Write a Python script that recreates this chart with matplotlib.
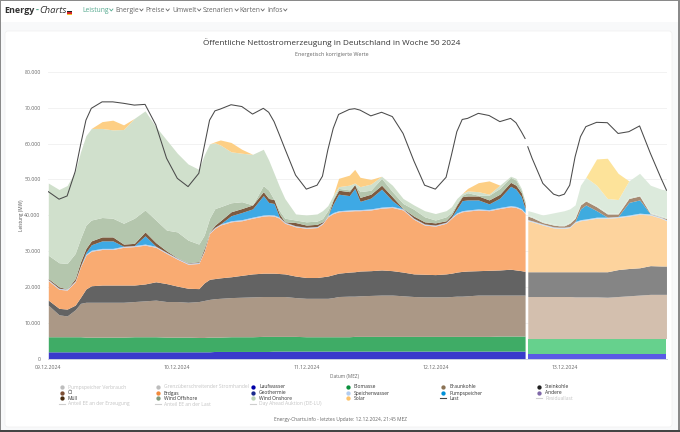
import numpy as np
import matplotlib
matplotlib.use('Agg')
import matplotlib.pyplot as plt
from matplotlib.patches import Rectangle, FancyBboxPatch
from matplotlib.ticker import FuncFormatter

plt.rcParams['font.family'] = ['Open Sans', 'DejaVu Sans']

# hours since 09.12.2024 00:00, values in GW, stack tops
hours = [0, 2, 3.5, 5, 6, 7, 8, 10, 12, 14, 16, 18, 20, 22,
         24, 26, 28, 29, 30, 31, 32, 34, 36, 38, 40, 41, 42, 43, 44,
         46, 48, 50, 51, 52, 53, 54, 56, 57, 58, 60, 62, 64, 66,
         68, 70, 72, 74, 75, 76, 77, 78, 80, 82, 84, 86, 87, 88, 88.7,
         89.2, 90, 92, 94, 95, 96, 97, 98, 99, 100, 102, 104, 106, 108, 110, 112, 114, 115]

lauf_top = [2.0, 2.0, 2.0, 2.0, 2.0, 2.0, 2.0, 2.0, 2.0, 2.0, 2.0, 2.0, 2.0, 2.0,
            2.0, 2.0, 2.0, 2.0, 2.0, 2.1, 2.1, 2.1, 2.1, 2.1, 2.1, 2.1, 2.2, 2.2, 2.2,
            2.2, 2.2, 2.2, 2.2, 2.2, 2.2, 2.2, 2.2, 2.2, 2.2, 2.2, 2.2, 2.2, 2.2,
            2.2, 2.2, 2.2, 2.2, 2.2, 2.2, 2.2, 2.2, 2.2, 2.2, 2.2, 2.2, 2.2, 2.2, 2.2,
            1.5, 1.5, 1.5, 1.5, 1.5, 1.5, 1.5, 1.5, 1.5, 1.5, 1.5, 1.5, 1.5, 1.5, 1.5, 1.5, 1.5, 1.5]
bio_top = [6.2, 6.2, 6.2, 6.2, 6.2, 6.1, 6.1, 6.1, 6.1, 6.1, 6.2, 6.2, 6.2, 6.1,
           6.1, 6.1, 6.0, 6.0, 6.1, 6.1, 6.1, 6.2, 6.2, 6.2, 6.3, 6.3, 6.3, 6.3, 6.3,
           6.3, 6.2, 6.2, 6.2, 6.2, 6.2, 6.2, 6.2, 6.3, 6.3, 6.3, 6.3, 6.3, 6.3,
           6.3, 6.3, 6.3, 6.3, 6.3, 6.3, 6.3, 6.3, 6.3, 6.3, 6.4, 6.4, 6.4, 6.4, 6.4,
           5.7, 5.7, 5.7, 5.7, 5.7, 5.7, 5.7, 5.7, 5.7, 5.7, 5.7, 5.7, 5.7, 5.7, 5.7, 5.7, 5.7, 5.7]
braun_top = [15, 12.3, 12, 13.7, 15.5, 15.8, 15.8, 15.8, 15.8, 15.8, 16, 16.2, 16.4, 16,
             16, 15.8, 16, 16.3, 16.6, 16.8, 16.9, 17.1, 17.2, 17.3, 17.4, 17.4, 17.4, 17.4, 17.4,
             17.1, 16.9, 16.9, 16.9, 16.9, 17.1, 17.4, 17.5, 17.5, 17.6, 17.7, 17.8, 17.8, 17.6,
             17.4, 17.3, 17.3, 17.3, 17.4, 17.5, 17.5, 17.6, 17.8, 17.8, 17.8, 17.8, 17.8, 17.8, 17.8,
             17.4, 17.4, 17.4, 17.4, 17.4, 17.4, 17.4, 17.3, 17.3, 17.3, 17.3, 17.2, 17.4, 17.6, 17.8, 18, 18, 18]
stein_top = [16.4, 14.1, 13.9, 15, 17.2, 19.5, 20.4, 20.6, 20.6, 20.6, 20.6, 20.9, 21.5, 21,
             20.3, 19.7, 19.6, 21.2, 22.2, 22.4, 22.6, 22.9, 23.3, 23.7, 23.9, 23.9, 23.9, 23.8, 23.7,
             23.1, 22.7, 22.7, 22.9, 23.1, 23.5, 23.9, 24.2, 24.3, 24.5, 24.6, 24.8, 24.6, 24.2,
             23.7, 23.6, 23.5, 23.7, 23.9, 24.2, 24.4, 24.5, 24.6, 24.7, 24.8, 25, 24.8, 24.6, 24.4,
             24.3, 24.3, 24.3, 24.3, 24.3, 24.3, 24.3, 24.3, 24.3, 24.3, 24.3, 24.3, 24.9, 25.2, 25.4, 26, 25.9, 25.9]
erdgas_top = [21.8, 19.4, 19.2, 21.5, 25.7, 28.9, 30, 30.5, 30.5, 31.1, 31.3, 31.7, 31.1, 29.4,
              27.8, 26.4, 26.6, 29.9, 35, 36.4, 37.3, 38.2, 38.5, 39.2, 39.8, 39.9, 39.8, 39.2, 37.8,
              36.8, 36.4, 36.6, 37.6, 39.6, 40.5, 41, 41.2, 41.3, 41.3, 41.5, 42, 42.2, 41.5,
              38.9, 37.3, 37, 37.8, 39.2, 40.4, 41, 41.2, 41.5, 41.3, 41.9, 42.4, 42.2, 41.6, 40.5,
              38.5, 38.2, 37.3, 36.5, 36.4, 36.4, 36.6, 38, 38.5, 38.7, 39.2, 39.2, 39.4, 39.8, 40.3, 40.1, 39.2, 38.5]
brown_top = [22.4, 20.1, 19.5, 22.4, 27.1, 30.8, 32.9, 34, 34, 32, 32.2, 35.4, 32.4, 30.1,
             28.2, 26.8, 27.1, 30.8, 35.4, 37.3, 38.5, 41, 41.9, 42.9, 46.6, 44.7, 44.4, 40.4, 38.2,
             38, 37.3, 37.5, 38.2, 39.8, 44.3, 47, 46.6, 48.6, 45, 45.9, 48.4, 45.2, 41.9,
             39.8, 38.2, 37.9, 38.5, 40.1, 42.9, 45.2, 45.4, 45.4, 44.3, 45.9, 49.2, 48.4, 46.3, 42.9,
             39.8, 39.4, 38, 37.3, 37.1, 37.1, 37.8, 39.2, 42.9, 44, 42.4, 40.4, 40.4, 44.7, 45.4, 40.5, 39.6, 39.1]
offshore_top = [28.9, 26.8, 26.6, 29.4, 33.6, 37.3, 38.7, 39.4, 39.2, 37.8, 39.2, 41.5, 38.7, 35.9,
                35.4, 33.1, 32, 34.5, 39.2, 41.9, 42.4, 43.5, 43.8, 42.9, 48.3, 47, 43.8, 41.3, 39.2,
                38.7, 38.2, 38.4, 39.1, 41.3, 44.7, 47.5, 47.1, 48.6, 46.6, 47, 50.3, 46.6, 43.3,
                41.7, 39.6, 38.7, 39.6, 40.8, 43.3, 45.6, 46.3, 45.6, 45.6, 47.5, 50.6, 49.8, 47, 43.8,
                40.1, 39.7, 38.3, 37.6, 37.4, 37.4, 38.1, 39.5, 43.2, 44.3, 42.7, 40.7, 40.7, 45, 45.7, 40.8, 39.9, 39.4]
onshore_top = [49, 47.2, 48.3, 52.2, 57.7, 62.2, 64.2, 64.2, 63.8, 63.9, 67, 69.1, 64.7, 61,
               57.3, 54.3, 52.8, 56.8, 59.9, 60.2, 59.6, 57.7, 57.3, 57, 58.4, 55.4, 51.7, 48, 44.7,
               40.4, 40.1, 40.4, 41.3, 42.7, 45.6, 48, 48.4, 49, 48, 48.7, 50.9, 48.4, 44.7,
               42.9, 41.3, 40.5, 41.3, 42.4, 44.7, 46.1, 46.8, 46.6, 45.9, 48.4, 50.9, 50.3, 47.5, 43.8,
               41.3, 41, 40.1, 40.7, 41, 41.3, 41.8, 42.9, 48.4, 50.6, 48.4, 44.7, 44.4, 49.6, 51.7, 48.4, 47.3, 47]
solar = [0, 0, 0, 0, 0, 0, 0, 1.9, 2.7, 1.3, 0, 0, 0, 0,
         0, 0, 0, 0, 0, 0.3, 1.4, 2.6, 1.1, 0, 0, 0, 0, 0, 0,
         0, 0, 0, 0, 0, 0, 2.3, 2.8, 3.8, 2.6, 1.3, 0, 0, 0,
         0, 0, 0, 0, 0, 0, 0, 0.7, 2.5, 3.7, 0, 0, 0, 0, 0,
         0, 0, 0, 0, 0, 0, 0, 0, 0, 0, 7.3, 11.2, 7.3, 0, 0, 0, 0, 0]
last = [46.6, 44.5, 45.4, 52.2, 59.6, 66.5, 69.8, 71.6, 71.6, 71.2, 70.7, 70.9, 65.2, 55.9,
        50.3, 48, 51.7, 59.1, 66.5, 69.1, 69.6, 70.8, 70.3, 68.2, 69.8, 68.7, 66.1, 62.4, 58.6,
        51.2, 47.3, 48.4, 50.9, 58.2, 64.2, 68.1, 69.5, 69.7, 69.3, 67.7, 68.7, 67.5, 62.8,
        55.2, 48.4, 47.3, 50.6, 56.8, 63.3, 66.7, 67, 68.4, 67.8, 66.1, 67, 65.8, 63.3, 61.4,
        59.1, 55.9, 48.9, 45.9, 45.4, 45.9, 48.4, 56.3, 61.9, 64.7, 65.9, 65.8, 62.8, 63.3, 64.9, 57.3, 50.3, 47]
oel_muell = 1.1
speicher = 0.3

y_ticks = [0, 10000, 20000, 30000, 40000, 50000, 60000, 70000, 80000]
x_ticks = [0, 24, 48, 72, 96]
x_labels = ['09.12.2024', '10.12.2024', '11.12.2024', '12.12.2024', '13.12.2024']
nav_items = ['Leistung', 'Energie', 'Preise', 'Umwelt', 'Szenarien', 'Karten', 'Infos']
nav_x = [82, 115, 145.5, 172, 203, 239, 267]

legend_rows = [
    ['Pumpspeicher Verbrauch', 'Grenzüberschreitender Stromhandel', 'Laufwasser', 'Biomasse', 'Braunkohle', 'Steinkohle'],
    ['Öl', 'Erdgas', 'Geothermie', 'Speicherwasser', 'Pumpspeicher', 'Andere'],
    ['Müll', 'Wind Offshore', 'Wind Onshore', 'Solar', 'Last', 'Residuallast'],
    ['Anteil EE an der Erzeugung', 'Anteil EE an der Last', 'Day Ahead Auktion (DE-LU)'],
]
legend_colors = [
    ['#bdbdbd', '#bdbdbd', '#0000a8', '#0a8f3c', '#8b7355', '#1f1f1f'],
    ['#7d4f35', '#f28a3c', '#1a2a8c', '#b3cdf0', '#0090d8', '#7f68a8'],
    ['#4a2d12', '#7f9a7c', '#bcd3b5', '#fcc36c', '#444444', '#cfcfcf'],
    ['#cfcfcf', '#cfcfcf', '#cfcfcf'],
]
legend_muted = ['Pumpspeicher Verbrauch', 'Grenzüberschreitender Stromhandel', 'Residuallast',
                'Anteil EE an der Erzeugung', 'Anteil EE an der Last', 'Day Ahead Auktion (DE-LU)']
legend_lines = ['Last', 'Residuallast', 'Anteil EE an der Erzeugung', 'Anteil EE an der Last', 'Day Ahead Auktion (DE-LU)']
legend_mark_x = [62, 158, 253, 348, 443, 539]
legend_y = [387, 393, 398, 404]

W, H = 680, 432
fig = plt.figure(figsize=(W / 100, H / 100), dpi=100, facecolor='#f8f9fa')

# page furniture in pixel coordinates
bg = fig.add_axes([0, 0, 1, 1], zorder=0)
bg.set_xlim(0, W)
bg.set_ylim(H, 0)
bg.axis('off')
bg.add_patch(Rectangle((0, 0), W, 22, fc='white', ec='none'))
bg.add_patch(FancyBboxPatch((5, 31), 667, 396, boxstyle='round,pad=0,rounding_size=3', fc='white', ec='#f0f0f0', lw=0.5))
bg.add_patch(Rectangle((0, 0), W, 1, fc='#8a8a8a', ec='none'))
bg.add_patch(Rectangle((0, 0), 1.2, H, fc='#8a8a8a', ec='none'))
bg.add_patch(Rectangle((W - 2, 0), 2, H, fc='#8a8a8a', ec='none'))
bg.add_patch(Rectangle((0, H - 2), W, 2, fc='#444444', ec='none'))

bg.text(4, 10.5, 'Energy', fontsize=6.5, fontweight='bold', color='#333333', va='center')
bg.text(35.3, 10.5, '-', fontsize=6.5, fontweight='bold', color='#55a98f', va='center')
bg.text(39, 10.5, 'Charts', fontsize=6.8, style='italic', color='#333333', va='center')
bg.add_patch(Rectangle((67, 10.5), 5, 1.6, fc='#222222', ec='none'))
bg.add_patch(Rectangle((67, 12.1), 5, 1.4, fc='#d8262c', ec='none'))
bg.add_patch(Rectangle((67, 13.5), 5, 1.5, fc='#f4c430', ec='none'))
fig.canvas.draw()
for i in range(len(nav_items)):
    col = '#55a98f' if i == 0 else '#666666'
    t = bg.text(nav_x[i], 10, nav_items[i], fontsize=4.9, color=col, va='center')
    ex = t.get_window_extent(fig.canvas.get_renderer())
    cx = ex.x1 + 1.2
    bg.plot([cx, cx + 1.6, cx + 3.2], [9, 11, 9], color=col, lw=0.6)

bg.text(332, 43, 'Öffentliche Nettostromerzeugung in Deutschland in Woche 50 2024', fontsize=5.85,
        color='#333333', ha='center', va='center')
bg.text(332, 54.5, 'Energetisch korrigierte Werte', fontsize=3.9, color='#666666', ha='center', va='center')
bg.text(21, 215, 'Leistung (MW)', fontsize=3.4, color='#555555', rotation=90, ha='center', va='center')
bg.text(344, 376.5, 'Datum (MEZ)', fontsize=3.4, color='#666666', ha='center', va='center')
bg.text(340, 419.5, 'Energy-Charts.info - letztes Update: 12.12.2024, 21:45 MEZ', fontsize=3.5,
        color='#666666', ha='center', va='center')

for r in range(len(legend_rows)):
    for c in range(len(legend_rows[r])):
        name = legend_rows[r][c]
        mx, my = legend_mark_x[c], legend_y[r]
        if name in legend_lines:
            bg.plot([mx - 3, mx + 3], [my, my], color=legend_colors[r][c], lw=0.8)
        else:
            bg.plot(mx, my, 'o', ms=3.1, color=legend_colors[r][c], mew=0)
        col = '#c4c4c4' if name in legend_muted else '#333333'
        bg.text(mx + 6, my, name, fontsize=3.6, color=col, va='center')

# plot area: left 48.3 px, right 667 px, top 71.7 px, bottom 359 px
ax = fig.add_axes([48.3 / W, 1 - 359 / H, (667 - 48.3) / W, (359 - 71.7) / H], zorder=1)
ax.patch.set_alpha(0)
ax.set_xlim(0, 115.1)
ax.set_ylim(0, 80000)

h = np.array(hours, dtype=float)
bounds = [np.array(b) * 1000 for b in (lauf_top, bio_top, braun_top, stein_top, erdgas_top)]
erdgas = bounds[-1]
brown = np.maximum(np.array(brown_top) * 1000, erdgas + 300)
speicher_top = np.minimum(erdgas + speicher * 1000, brown)
pump_top = np.maximum(speicher_top, brown - oel_muell * 1000)
offshore = np.maximum(np.array(offshore_top) * 1000, brown)
onshore = np.maximum(np.array(onshore_top) * 1000, offshore)
solar_top = onshore + np.array(solar) * 1000
layers = bounds + [speicher_top, pump_top, brown, offshore, onshore, solar_top]

past_colors = ['#3a3acb', '#3fac66', '#ab9886', '#636363', '#f9ab72', '#c3d0e8',
               '#3ea9e5', '#7d5a40', '#b4c6ad', '#d0e0cc', '#fdcf85']
fc_colors = ['#5a5ae6', '#66d18d', '#d3bfae', '#858585', '#fdd39d', '#c9dcef',
             '#3fabdf', '#a68a72', '#dceadc', '#dceadc', '#fde39a']

split = hours.index(88.7) + 1
lower = np.zeros(len(h))
for i in range(len(layers)):
    ax.fill_between(h[:split], lower[:split], layers[i][:split], color=past_colors[i], lw=0, zorder=2)
    ax.fill_between(h[split:], lower[split:], layers[i][split:], color=fc_colors[i], lw=0, zorder=2)
    lower = layers[i]

load = np.array(last) * 1000
ax.plot(h[:split], load[:split], color='#4a4a4a', lw=0.75, zorder=3)
ax.plot(h[split:], load[split:], color='#4a4a4a', lw=0.75, zorder=3)

ax.set_yticks(y_ticks)
ax.yaxis.set_major_formatter(FuncFormatter(lambda v, p: '{:,.0f}'.format(v).replace(',', '.')))
ax.set_xticks(x_ticks)
ax.set_xticklabels(x_labels)
ax.tick_params(axis='both', length=0, labelsize=3.7, labelcolor='#666666')
ax.tick_params(axis='x', pad=4.5)
ax.tick_params(axis='y', pad=5.5)
ax.grid(axis='y', color='#f0f0f0', lw=0.6, zorder=0)
ax.set_axisbelow(True)
for s in ['top', 'right', 'left']:
    ax.spines[s].set_visible(False)
ax.spines['bottom'].set_color('#ccd0e0')
ax.spines['bottom'].set_linewidth(0.7)

fig.savefig('out.png', dpi=100, facecolor=fig.get_facecolor())
